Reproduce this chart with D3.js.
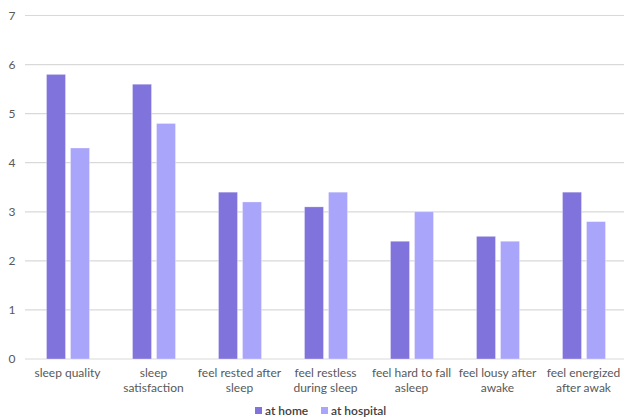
<!DOCTYPE html>
<html>
<head>
<meta charset="utf-8">
<script src="https://cdn.jsdelivr.net/npm/d3@7"></script>
<style>
  body { margin: 0; background: #fff; }
  text { font-family: Lato, "Open Sans", sans-serif; }
</style>
</head>
<body>
<script>
"use strict";

// Width and height
let w = 624;
let h = 419;

// data
let categories = [
    ["sleep quality"],
    ["sleep", "satisfaction"],
    ["feel rested after", "sleep"],
    ["feel restless", "during sleep"],
    ["feel hard to fall", "asleep"],
    ["feel lousy after", "awake"],
    ["feel energized", "after awak"]
];
let seriesNames = ["at home", "at hospital"];
let atHome = [5.8, 5.6, 3.4, 3.1, 2.4, 2.5, 3.4];
let atHospital = [4.3, 4.8, 3.2, 3.4, 3.0, 2.4, 2.8];
let yTicks = [0, 1, 2, 3, 4, 5, 6, 7];
let colors = ["#8073db", "#a9a5fa"];

let svg = d3.select("body").append("svg")
    .attr("width", w)
    .attr("height", h);

let x = d3.scaleBand()
    .domain(d3.range(categories.length))
    .range([25, 627]);

let y = d3.scaleLinear()
    .domain([0, 7])
    .range([359, 15.5]);

// gridlines
svg.append("g")
    .selectAll("line")
    .data(yTicks)
    .enter().append("line")
    .attr("x1", 25)
    .attr("x2", w)
    .attr("y1", d => y(d))
    .attr("y2", d => y(d))
    .attr("stroke", "#d9d9d9")
    .attr("stroke-width", 1.2);

// y labels
svg.append("g")
    .selectAll("text")
    .data(yTicks)
    .enter().append("text")
    .attr("x", 12)
    .attr("y", d => y(d) + 4)
    .attr("text-anchor", "middle")
    .attr("font-size", 12)
    .attr("fill", "#595959")
    .text(d => d);

let barW = 19, gap = 5;
let series = [atHome, atHospital];

series.forEach((vals, s) => {
    svg.append("g")
        .selectAll("rect")
        .data(vals)
        .enter().append("rect")
        .attr("x", (d, i) => x(i) + x.bandwidth() / 2 - barW - gap / 2 + s * (barW + gap))
        .attr("y", d => y(d))
        .attr("width", barW)
        .attr("height", d => y(0) - y(d))
        .attr("fill", colors[s])
        .attr("stroke", "#ffffff")
        .attr("stroke-opacity", 0.5)
        .attr("stroke-width", 0.6);
});

// category labels
let cat = svg.append("g")
    .selectAll("text")
    .data(categories)
    .enter().append("text")
    .attr("text-anchor", "middle")
    .attr("font-size", 12)
    .attr("fill", "#595959");

cat.selectAll("tspan")
    .data((d, i) => d.map(t => ({t: t, i: i})))
    .enter().append("tspan")
    .attr("x", d => x(d.i) + x.bandwidth() / 2 - 0.5)
    .attr("y", (d, j) => 377 + j * 14.5)
    .text(d => d.t);

// legend
let legX = [255, 321];
let leg = svg.append("g")
    .selectAll("g")
    .data(seriesNames)
    .enter().append("g");

leg.append("rect")
    .attr("x", (d, i) => legX[i])
    .attr("y", 407)
    .attr("width", 7)
    .attr("height", 7)
    .attr("fill", (d, i) => colors[i]);

leg.append("text")
    .attr("x", (d, i) => legX[i] + 10)
    .attr("y", 415)
    .attr("font-size", 12)
    .attr("font-weight", 600)
    .attr("fill", "#404040")
    .text(d => d);
</script>
</body>
</html>
